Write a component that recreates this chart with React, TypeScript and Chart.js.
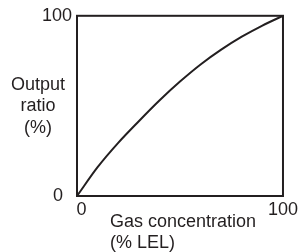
import React, { useEffect, useRef } from "react";
import { Chart, registerables } from "chart.js";

Chart.register(...registerables);

const gasConcentration = [0, 10, 20, 30, 40, 50, 60, 70, 80, 90, 100];
const outputRatio = [0, 16, 29.5, 41.5, 53, 63.5, 73, 81.2, 88.4, 94.6, 100];
const xTickValues = [0, 100];
const yTickValues = [0, 100];
const yTitleLines = ["Output", "ratio", "(%)"];
const xTitleLines = ["Gas concentration", "(% LEL)"];

const FONT = "Liberation Sans, Arial, sans-serif";
const INK = "#231f20";

const frameAndTitles = {
  id: "frameAndTitles",
  afterDatasetsDraw(chart: any) {
    const { ctx, chartArea } = chart;
    const { left, right, top, bottom } = chartArea;
    ctx.save();
    ctx.strokeStyle = INK;
    ctx.lineWidth = 2;
    ctx.strokeRect(left, top, right - left, bottom - top);
    ctx.fillStyle = INK;
    ctx.font = `18px ${FONT}`;
    ctx.textBaseline = "middle";
    ctx.textAlign = "center";
    const midY = (top + bottom) / 2;
    yTitleLines.forEach((line, i) => {
      ctx.fillText(line, left - 39, midY - 21 + i * 21.5);
    });
    ctx.textAlign = "left";
    xTitleLines.forEach((line, i) => {
      ctx.fillText(line, left + 33, bottom + 26 + i * 21);
    });
    ctx.restore();
  },
};

export default function App() {
  const ref = useRef<HTMLCanvasElement | null>(null);
  useEffect(() => {
    if (!ref.current) return;
    const chart = new Chart(ref.current, {
      type: "line",
      data: {
        datasets: [
          {
            data: gasConcentration.map((x, i) => ({ x, y: outputRatio[i] })),
            borderColor: INK,
            borderWidth: 2,
            pointRadius: 0,
            cubicInterpolationMode: "monotone",
            fill: false,
          },
        ],
      },
      options: {
        animation: false,
        responsive: false,
        maintainAspectRatio: false,
        layout: { padding: { left: 0, top: 15, right: 17, bottom: 0 } },
        plugins: { legend: { display: false }, tooltip: { enabled: false } },
        scales: {
          x: {
            type: "linear",
            min: 0,
            max: 100,
            afterBuildTicks: (s: any) => {
              s.ticks = xTickValues.map((v) => ({ value: v }));
            },
            afterFit: (s: any) => {
              s.height = 56;
            },
            grid: { display: false, drawTicks: false },
            border: { display: false },
            ticks: {
              color: INK,
              font: { family: FONT, size: 18 },
              padding: 3,
              maxRotation: 0,
              autoSkip: false,
              callback: (v: any) => (v === 0 ? "\u2002" + v : String(v)),
            },
          },
          y: {
            type: "linear",
            min: 0,
            max: 100,
            afterBuildTicks: (s: any) => {
              s.ticks = yTickValues.map((v) => ({ value: v }));
            },
            afterFit: (s: any) => {
              s.width = 77;
            },
            grid: { display: false, drawTicks: false },
            border: { display: false },
            ticks: {
              color: INK,
              font: { family: FONT, size: 18 },
              padding: 5,
              autoSkip: false,
              callback: (v: any) => (v === 0 ? v + "\u2002" : String(v)),
            },
          },
        },
      },
      plugins: [frameAndTitles],
    } as any);
    return () => chart.destroy();
  }, []);
  return (
    <div style={{ position: "fixed", left: 0, top: 0, width: 301, height: 252, background: "#fff" }}>
      <canvas ref={ref} width={301} height={252} style={{ width: 301, height: 252, display: "block" }} />
    </div>
  );
}
